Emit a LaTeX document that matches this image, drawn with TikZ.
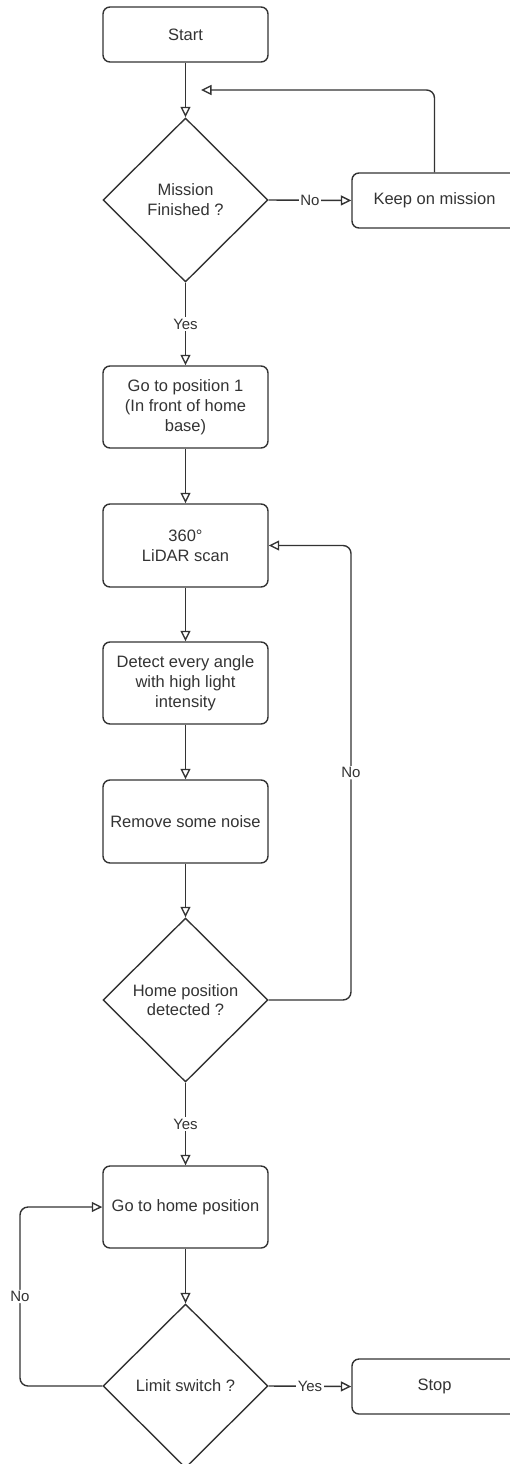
\documentclass[tikz,border=0pt]{standalone}
\usepackage{fontspec}
\setmainfont{Liberation Sans}
\usetikzlibrary{arrows.meta,shapes.geometric}
\definecolor{ln}{HTML}{333333}
\definecolor{tx}{HTML}{333333}
\tikzset{
  base/.style={draw=ln, line width=1.4pt, text=tx, align=center, inner sep=0pt,
    font=\fontsize{16.5}{19.8}\selectfont},
  proc/.style={base, rectangle, rounded corners=7pt, minimum width=165pt},
  decide/.style={base, diamond, minimum width=165pt, minimum height=164pt},
  arr/.style={draw=ln, line width=1.4pt, -{Triangle[open,length=10.5pt,width=10pt]}},
  lbl/.style={fill=white, text=tx, inner sep=1.5pt, font=\fontsize{15}{18}\selectfont},
}
\begin{document}
\begin{tikzpicture}[x=1pt,y=-1pt]
\useasboundingbox (0,0) rectangle (510,1464);
\node[proc, minimum height=55pt] (start) at (185.5,34.5) {Start};
\node[decide] (d1) at (185.5,200) {Mission\\Finished ?};
\node[proc, minimum height=55pt] (keep) at (434.5,200.5) {Keep on mission};
\node[proc, minimum height=82pt] (b2) at (185.5,407) {Go to position 1\\(In front of home\\base)};
\node[proc, minimum height=83pt] (b3) at (185.5,545.5) {360°\\LiDAR scan};
\node[proc, minimum height=82pt] (b4) at (185.5,683) {Detect every angle\\with high light\\intensity};
\node[proc, minimum height=83pt] (b5) at (185.5,821.5) {Remove some noise};
\node[decide] (d2) at (185.5,1000) {Home position\\detected ?};
\node[proc, minimum height=82pt] (b6) at (185.5,1207) {Go to home position};
\node[decide] (d3) at (185.5,1386) {Limit switch ?};
\node[proc, minimum height=55pt] (stop) at (434.5,1386.5) {Stop};
\coordinate (fb1) at (201,90);
\coordinate (n2) at (351,1000);
\coordinate (n3) at (20,1386);
\draw[arr] (start) -- (d1);
\draw[arr] (d1.east) -- node[lbl] {No} (keep.west);
\draw[arr, rounded corners=8pt] (keep.north) |- (fb1);
\draw[arr] (d1.south) -- node[lbl] {Yes} (b2.north);
\draw[arr] (b2) -- (b3);
\draw[arr] (b3) -- (b4);
\draw[arr] (b4) -- (b5);
\draw[arr] (b5) -- (d2.north);
\draw[arr, rounded corners=8pt] (d2.east) -- (n2) |- node[lbl, pos=0.25] {No} (b3.east);
\draw[arr] (d2.south) -- node[lbl] {Yes} (b6.north);
\draw[arr] (b6) -- (d3.north);
\draw[arr, rounded corners=8pt] (d3.west) -- (n3) |- node[lbl, pos=0.25] {No} (b6.west);
\draw[arr] (d3.east) -- node[lbl] {Yes} (stop.west);
\end{tikzpicture}
\end{document}
